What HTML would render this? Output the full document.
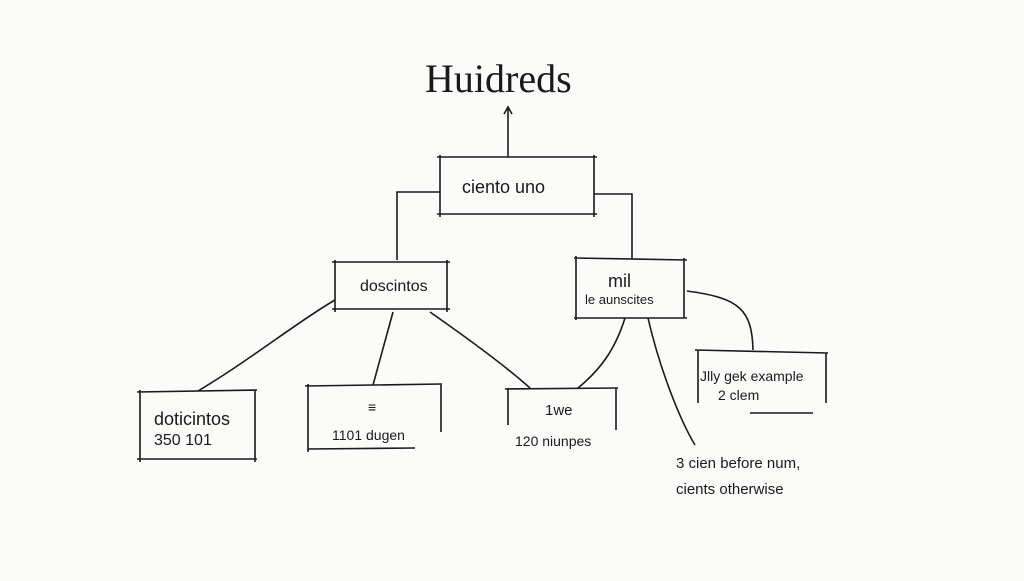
<!DOCTYPE html>
<html><head><meta charset="utf-8"><style>
body{margin:0;width:1024px;height:576px;background:#fbfbf9;overflow:hidden}
svg text{font-family:"Liberation Sans",sans-serif;fill:#1a1a1a}
</style></head><body>
<svg width="1024" height="576" viewBox="0 0 1024 576" fill="none" stroke="#1a1a1a" stroke-width="1.6">
<text x="425" y="92" font-size="40" stroke="none" font-family="Liberation Serif" style="font-family:'Liberation Serif',serif">Huidreds</text>
<path d="M508 157 V108"/><path d="M504 114 L508 107 L512 114"/>
<path d="M437 157 L597 157 M440 155 V217 M437 214 L597 214 M594 155 V217"/>
<text x="462" y="193" font-size="18" stroke="none">ciento uno</text>
<path d="M440 192 H397 V260"/><path d="M594 194 H632 V258"/>
<path d="M332 262 L450 262 M335 260 V312 M332 309 L450 309 M447 260 V312"/>
<text x="360" y="291" font-size="16" stroke="none">doscintos</text>
<path d="M574 258 L687 260 M576 256 V320 M574 318 L687 318 M684 258 V318"/>
<text x="608" y="287" font-size="18" stroke="none">mil</text>
<text x="585" y="304" font-size="13" stroke="none">le aunscites</text>
<path d="M335 300 C300 320 250 360 198 391"/>
<path d="M393 312 L373 385"/>
<path d="M430 312 C470 340 510 370 530 388"/>
<path d="M625 318 C615 350 600 370 578 388"/>
<path d="M648 318 C660 370 680 420 695 445"/>
<path d="M687 291 C740 298 752 310 753 350"/>
<path d="M137 392 L257 390 M140 390 V462 M137 459 L257 459 M255 390 V462"/>
<text x="154" y="425" font-size="18" stroke="none">doticintos</text>
<text x="154" y="445" font-size="16" stroke="none">350 101</text>
<path d="M305 386 L442 384 M308 384 V452 M308 449 L415 448 M441 384 V432"/>
<text x="368" y="412" font-size="14" stroke="none">≡</text>
<text x="332" y="440" font-size="14" stroke="none">1101 dugen</text>
<path d="M505 389 L618 388 M508 388 V425 M616 388 V430"/>
<text x="545" y="415" font-size="15" stroke="none">1we</text>
<text x="515" y="446" font-size="14" stroke="none">120 niunpes</text>
<path d="M695 350 L828 353 M698 350 V403 M826 353 V403 M750 413 L813 413"/>
<text x="700" y="381" font-size="14" stroke="none">Jlly gek example</text>
<text x="718" y="400" font-size="14" stroke="none">2 clem</text>
<text x="676" y="468" font-size="15" stroke="none">3 cien before num,</text>
<text x="676" y="494" font-size="15" stroke="none">cients otherwise</text>
</svg>
</body></html>
